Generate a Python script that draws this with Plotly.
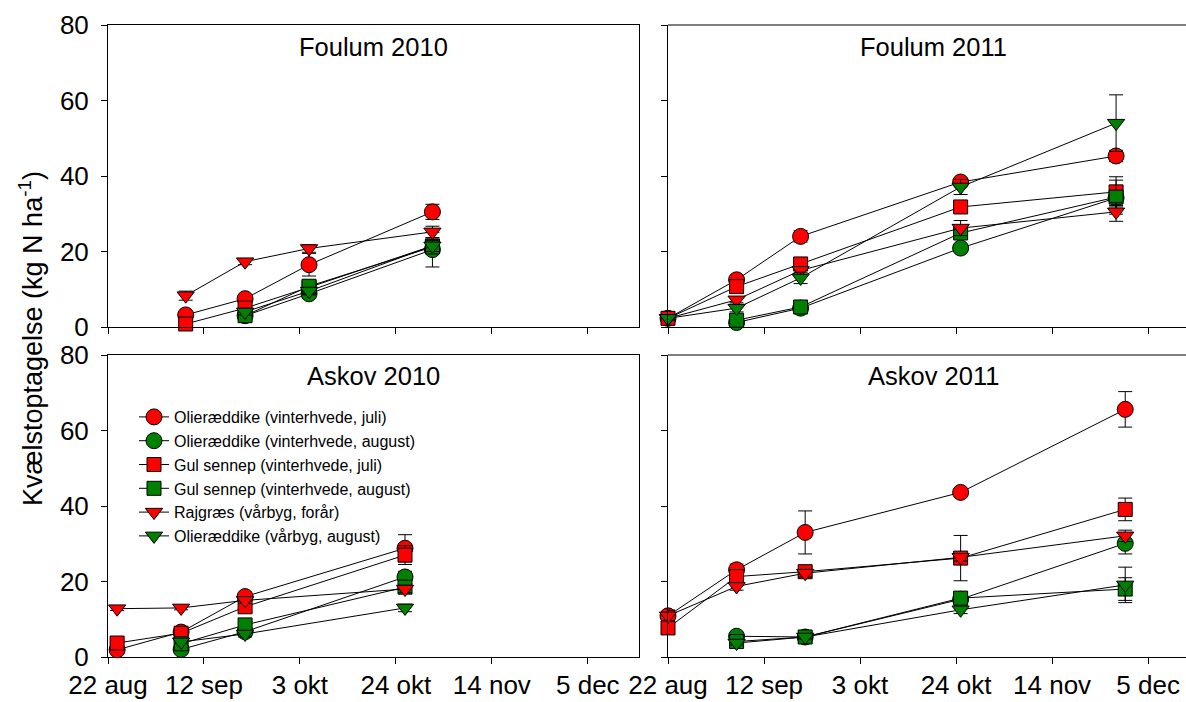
import plotly.graph_objects as go

# ---------------- data ----------------
series_names = [
    "Olieræddike (vinterhvede, juli)",
    "Olieræddike (vinterhvede, august)",
    "Gul sennep (vinterhvede, juli)",
    "Gul sennep (vinterhvede, august)",
    "Rajgræs (vårbyg, forår)",
    "Olieræddike (vårbyg, august)",
]
series_colors = ["#FF0000", "#008000", "#FF0000", "#008000", "#FF0000", "#008000"]
series_symbols = ["circle", "circle", "square", "square", "triangle-down", "triangle-down"]

tick_dates_2010 = ["2010-08-22", "2010-09-12", "2010-10-03", "2010-10-24", "2010-11-14", "2010-12-05"]
tick_dates_2011 = ["2011-08-22", "2011-09-12", "2011-10-03", "2011-10-24", "2011-11-14", "2011-12-05"]
tick_labels = ["22 aug", "12 sep", "3 okt", "24 okt", "14 nov", "5 dec"]
y_ticks = [0, 20, 40, 60, 80]

# Foulum 2010
dates_foulum2010 = ["2010-09-08", "2010-09-21", "2010-10-05", "2010-11-01"]
foulum2010_or_juli = [3.2, 7.5, 16.5, 30.5]
foulum2010_or_aug = [None, 3.0, 8.8, 20.5]
foulum2010_gs_juli = [0.8, 5.0, 10.5, 21.5]
foulum2010_gs_aug = [None, 3.0, 10.8, 21.2]
foulum2010_rg = [8.3, 17.3, 20.8, 25.2]
foulum2010_orv_aug = [None, 4.0, 9.5, 21.5]
foulum2010_err = [
    [0.8, 1.0, 3.0, 2.0],
    [0, 0.8, 1.2, 4.6],
    [0.5, 0.8, 1.0, 1.5],
    [0, 0.8, 1.0, 1.5],
    [1.2, 0.8, 1.0, 1.5],
    [0, 0.8, 1.0, 1.5],
]

# Foulum 2011
dates_foulum2011 = ["2011-08-22", "2011-09-06", "2011-09-20", "2011-10-25", "2011-11-28"]
foulum2011_or_juli = [2.3, 12.5, 24.0, 38.4, 45.3]
foulum2011_or_aug = [None, 1.2, 5.0, 20.9, 34.2]
foulum2011_gs_juli = [2.3, 10.7, 16.7, 31.8, 35.8]
foulum2011_gs_aug = [None, 1.8, 5.3, 24.9, 34.4]
foulum2011_rg = [2.3, 7.2, 15.0, 26.2, 30.5]
foulum2011_orv_aug = [2.3, 5.0, 13.0, 37.1, 54.0]
foulum2011_err = [
    [0.5, 1.0, 1.5, 1.0, 1.5],
    [0, 0.5, 0.5, 1.0, 2.0],
    [0.5, 1.0, 1.5, 1.0, 4.0],
    [0, 0.5, 0.5, 1.5, 4.5],
    [0.5, 0.8, 1.0, 2.0, 2.5],
    [0.5, 1.0, 1.5, 2.0, 7.5],
]

# Askov 2010
dates_askov2010 = ["2010-08-24", "2010-09-07", "2010-09-21", "2010-10-26"]
askov2010_or_juli = [1.9, 6.6, 16.0, 28.8]
askov2010_or_aug = [None, 2.0, 6.7, 21.2]
askov2010_gs_juli = [3.7, 6.3, 13.3, 27.0]
askov2010_gs_aug = [None, 3.5, 8.5, 18.5]
askov2010_rg = [12.8, 13.0, 15.0, 18.0]
askov2010_orv_aug = [None, 4.0, 6.1, 13.0]
askov2010_err = [
    [0.5, 0.8, 1.0, 3.6],
    [0, 0.5, 0.8, 1.5],
    [0.5, 0.8, 1.5, 2.5],
    [0, 0.5, 0.8, 1.5],
    [0.5, 0.5, 0.8, 1.0],
    [0, 0.5, 0.8, 1.0],
]

# Askov 2011
dates_askov2011 = ["2011-08-22", "2011-09-06", "2011-09-21", "2011-10-25", "2011-11-30"]
askov2011_or_juli = [10.9, 23.1, 33.0, 43.6, 65.6]
askov2011_or_aug = [None, 5.5, 5.3, 15.3, 30.1]
askov2011_gs_juli = [7.7, 21.3, 22.6, 26.2, 39.1]
askov2011_gs_aug = [None, 4.1, 5.3, 15.6, 18.0]
askov2011_rg = [10.9, 18.7, 22.2, 26.4, 32.1]
askov2011_orv_aug = [None, 3.7, 5.3, 12.5, 19.1]
askov2011_err = [
    [1.5, 1.5, 5.7, 1.0, 4.7],
    [0, 0.5, 0.5, 1.0, 2.8],
    [1.0, 1.0, 1.0, 6.0, 3.0],
    [0, 0.5, 0.5, 1.5, 3.0],
    [1.5, 1.0, 1.0, 1.0, 1.5],
    [0, 0.5, 0.5, 1.0, 4.7],
]

panel_titles = ["Foulum 2010", "Foulum 2011", "Askov 2010", "Askov 2011"]

panels = [
    (dates_foulum2010, [foulum2010_or_juli, foulum2010_or_aug, foulum2010_gs_juli,
                        foulum2010_gs_aug, foulum2010_rg, foulum2010_orv_aug], foulum2010_err),
    (dates_foulum2011, [foulum2011_or_juli, foulum2011_or_aug, foulum2011_gs_juli,
                        foulum2011_gs_aug, foulum2011_rg, foulum2011_orv_aug], foulum2011_err),
    (dates_askov2010, [askov2010_or_juli, askov2010_or_aug, askov2010_gs_juli,
                       askov2010_gs_aug, askov2010_rg, askov2010_orv_aug], askov2010_err),
    (dates_askov2011, [askov2011_or_juli, askov2011_or_aug, askov2011_gs_juli,
                       askov2011_gs_aug, askov2011_rg, askov2011_orv_aug], askov2011_err),
]

# ---------------- layout geometry ----------------
W, H = 1186, 702
FONT = "Arial, Liberation Sans, sans-serif"

x_left = [108 / W, 639 / W]
x_right = [668 / W, 1.0]
y_top = [1 - 327 / H, 1 - 25 / H]
y_bot = [1 - 657 / H, 1 - 355 / H]

range_2010 = ["2010-08-22", "2010-12-16 05:00"]
range_2011 = ["2011-08-22", "2011-12-13 07:00"]

marker_sizes = {"circle": 16, "square": 14, "triangle-down": 15}

fig = go.Figure()

axis_ids = ["", "2", "3", "4"]
for p, (dates, values, errs) in enumerate(panels):
    ax = axis_ids[p]
    for s in range(6):
        err = [e if v is not None else 0 for e, v in zip(errs[s], values[s])]
        fig.add_trace(go.Scatter(
            x=dates, y=values[s], name=series_names[s],
            mode="lines+markers",
            xaxis="x" + ax, yaxis="y" + ax,
            line=dict(color="black", width=1),
            marker=dict(symbol=series_symbols[s], size=marker_sizes[series_symbols[s]],
                        color=series_colors[s], line=dict(color="black", width=1)),
            error_y=dict(type="data", array=err, visible=True, color="black",
                         thickness=1, width=7),
            showlegend=(p == 2), legendgroup=series_names[s],
            cliponaxis=False,
        ))

common_x = dict(type="date", tickmode="array", ticks="outside", ticklen=6,
                tickcolor="black", showline=True, linecolor="black", linewidth=1,
                showgrid=False, zeroline=False, automargin=False,
                ticklabelstandoff=-1,
                tickfont=dict(family=FONT, size=26, color="black"))
common_y = dict(range=[0, 80], tickmode="array", tickvals=y_ticks, ticks="outside",
                ticklen=6, tickcolor="black", showline=True, linecolor="black",
                linewidth=1, showgrid=False, zeroline=False, ticklabelstandoff=7,
                automargin=False,
                tickfont=dict(family=FONT, size=26, color="black"))

layout_axes = {}
specs = [
    (x_left, y_top, range_2010, tick_dates_2010, False, True, True),
    (x_right, y_top, range_2011, tick_dates_2011, False, False, False),
    (x_left, y_bot, range_2010, tick_dates_2010, True, True, True),
    (x_right, y_bot, range_2011, tick_dates_2011, True, False, False),
]
for p, (xd, yd, xr, tv, showx, showy, mirror) in enumerate(specs):
    ax = axis_ids[p]
    layout_axes["xaxis" + ax] = dict(common_x, domain=xd, range=xr, tickvals=tv,
                                     ticktext=tick_labels, showticklabels=showx,
                                     anchor="y" + ax, mirror=mirror)
    layout_axes["yaxis" + ax] = dict(common_y, domain=yd, showticklabels=showy,
                                     anchor="x" + ax, mirror=mirror)

shapes = []
for ax in ["2", "4"]:
    shapes.append(dict(type="line", xref="x" + ax + " domain", yref="y" + ax + " domain",
                       x0=0, x1=1, y0=1, y1=1, line=dict(color="black", width=1)))

title_pos = [(373.5, 47), (933, 47), (373.5, 376), (933, 376)]
annotations = []
for t, (px, py) in zip(panel_titles, title_pos):
    annotations.append(dict(text=t, x=px / W, y=1 - py / H, xref="paper", yref="paper",
                            xanchor="center", yanchor="middle", showarrow=False,
                            font=dict(family=FONT, size=25.5, color="black")))
annotations.append(dict(text="Kvælstoptagelse (kg N ha<sup>-1</sup>)", x=31 / W,
                        y=1 - 339 / H, xref="paper", yref="paper", textangle=-90,
                        xanchor="center", yanchor="middle", showarrow=False,
                        font=dict(family=FONT, size=27, color="black")))

fig.update_layout(
    width=W, height=H,
    margin=dict(l=0, r=0, t=0, b=0, autoexpand=False),
    paper_bgcolor="white", plot_bgcolor="white",
    font=dict(family=FONT, color="black"),
    showlegend=True,
    legend=dict(x=134 / W, y=1 - 400 / H, xanchor="left", yanchor="top",
                bgcolor="rgba(0,0,0,0)", font=dict(family=FONT, size=16, color="black"),
                tracegroupgap=0),
    shapes=shapes, annotations=annotations,
    **layout_axes,
)

fig.write_html("out.html")
